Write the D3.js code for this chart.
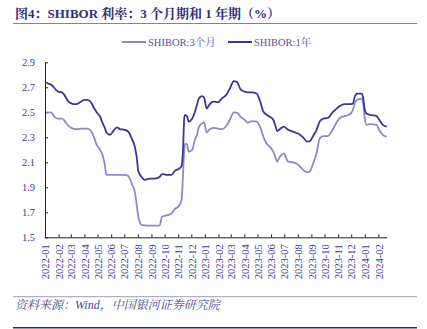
<!DOCTYPE html>
<html>
<head>
<meta charset="utf-8">
<script src="https://cdn.jsdelivr.net/npm/d3@7/dist/d3.min.js"></script>
<style>
  html, body { margin: 0; padding: 0; background: #fff; }
  svg { display: block; }
</style>
</head>
<body>
<svg id="chart" width="427" height="329"></svg>
<script>
// SHIBOR fixing dates (observation points)
const dates = [
  "2022-01-04","2022-01-08","2022-01-15","2022-01-20","2022-01-26","2022-01-31",
  "2022-02-08","2022-02-13","2022-02-19","2022-02-24","2022-03-03","2022-03-10",
  "2022-03-17","2022-03-24","2022-04-02","2022-04-09","2022-04-17","2022-04-22",
  "2022-04-29","2022-05-06","2022-05-13","2022-05-18","2022-05-21","2022-05-29",
  "2022-06-05","2022-06-14","2022-06-21","2022-07-02","2022-07-10","2022-07-18",
  "2022-07-25","2022-07-29","2022-08-02","2022-08-09","2022-08-17","2022-08-28",
  "2022-09-09","2022-09-20","2022-09-25","2022-10-05","2022-10-17","2022-10-24",
  "2022-11-01","2022-11-09","2022-11-12","2022-11-15","2022-11-17","2022-11-21",
  "2022-11-25","2022-12-03","2022-12-09","2022-12-14","2022-12-18","2022-12-25",
  "2022-12-30","2023-01-05","2023-01-11","2023-01-20","2023-01-31","2023-02-08",
  "2023-02-19","2023-02-27","2023-03-08","2023-03-16","2023-03-23","2023-04-02",
  "2023-04-09","2023-04-18","2023-04-29","2023-05-06","2023-05-14","2023-05-22",
  "2023-05-29","2023-06-06","2023-06-12","2023-06-15","2023-06-21","2023-06-30",
  "2023-07-10","2023-07-21","2023-08-02","2023-08-13","2023-08-23","2023-08-29",
  "2023-09-05","2023-09-13","2023-09-20","2023-09-28","2023-10-09","2023-10-17",
  "2023-10-29","2023-11-05","2023-11-16","2023-11-26","2023-12-05","2023-12-09",
  "2023-12-15","2023-12-25","2023-12-28","2024-01-01","2024-01-05","2024-01-13",
  "2024-01-28","2024-02-03","2024-02-11","2024-02-20"
];

// SHIBOR 3-month tenor (%)
const shibor3m = [
  2.50,2.50,2.50,2.475,2.455,2.45,
  2.45,2.44,2.41,2.39,2.375,2.365,
  2.365,2.37,2.37,2.37,2.345,2.31,
  2.24,2.205,2.15,2.07,2.00,2.00,
  2.00,2.00,2.00,2.00,1.99,1.93,
  1.865,1.77,1.665,1.60,1.595,1.593,
  1.593,1.595,1.665,1.675,1.69,1.725,
  1.745,1.80,2.00,2.20,2.25,2.245,
  2.185,2.20,2.28,2.32,2.38,2.41,
  2.42,2.34,2.36,2.375,2.37,2.365,
  2.39,2.44,2.50,2.495,2.465,2.44,
  2.415,2.43,2.425,2.39,2.31,2.25,
  2.225,2.185,2.13,2.105,2.145,2.17,
  2.105,2.10,2.08,2.04,2.02,2.03,
  2.09,2.175,2.29,2.31,2.31,2.345,
  2.42,2.455,2.47,2.48,2.52,2.57,
  2.60,2.61,2.58,2.45,2.40,2.405,
  2.40,2.355,2.32,2.305
];

// SHIBOR 1-year tenor (%)
const shibor1y = [
  2.74,2.73,2.72,2.705,2.68,2.665,
  2.66,2.645,2.61,2.585,2.57,2.565,
  2.57,2.585,2.60,2.60,2.575,2.54,
  2.50,2.47,2.41,2.37,2.34,2.32,
  2.345,2.38,2.366,2.36,2.345,2.29,
  2.225,2.15,2.03,1.985,1.96,1.97,
  1.97,1.985,2.005,2.00,2.00,2.03,
  2.045,2.07,2.20,2.46,2.48,2.47,
  2.425,2.45,2.50,2.56,2.61,2.63,
  2.62,2.53,2.56,2.585,2.58,2.61,
  2.64,2.69,2.75,2.74,2.685,2.665,
  2.66,2.66,2.65,2.60,2.51,2.48,
  2.465,2.44,2.38,2.35,2.365,2.385,
  2.36,2.345,2.33,2.30,2.265,2.27,
  2.31,2.36,2.425,2.45,2.455,2.49,
  2.53,2.55,2.565,2.565,2.57,2.625,
  2.65,2.65,2.62,2.52,2.49,2.48,
  2.47,2.44,2.40,2.385
];

const yTicks = [1.5, 1.7, 1.9, 2.1, 2.3, 2.5, 2.7, 2.9];
const seriesNames = ["SHIBOR:3个月", "SHIBOR:1年"];
const titleText = "图4：SHIBOR 利率：3 个月期和 1 年期（%）";
const sourceText = "资料来源：Wind，中国银河证券研究院";

const colors = { m3: "#8d89c7", y1: "#3b3596", axisText: "#3d3b8e" };
const serif = "'Liberation Serif','Times New Roman','Noto Serif CJK SC','Noto Sans CJK SC',serif";

const svg = d3.select("#chart");
const parse = d3.timeParse("%Y-%m-%d");
const dateObjs = dates.map(parse);

const x = d3.scaleTime()
  .domain([new Date(2022, 0, 1), dateObjs[dateObjs.length - 1]])
  .range([45, 386.7]);
const y = d3.scaleLinear().domain([1.5, 2.9]).range([237.3, 62.3]);

// Title and rule
svg.append("text")
  .attr("x", 15).attr("y", 18)
  .attr("font-family", serif).attr("font-size", 13).attr("font-weight", "bold")
  .attr("fill", "#2f2b7c")
  .text(titleText);
svg.append("line")
  .attr("x1", 13).attr("x2", 417).attr("y1", 23.5).attr("y2", 23.5)
  .attr("stroke", "#7f7cb8").attr("stroke-width", 1);

// Legend
const legend = [
  { name: seriesNames[0], color: colors.m3, x0: 122 },
  { name: seriesNames[1], color: colors.y1, x0: 228 }
];
legend.forEach(d => {
  svg.append("line")
    .attr("x1", d.x0).attr("x2", d.x0 + 24).attr("y1", 42).attr("y2", 42)
    .attr("stroke", d.color).attr("stroke-width", 2);
  svg.append("text")
    .attr("x", d.x0 + 26).attr("y", 45.8)
    .attr("font-family", serif).attr("font-size", 10.5)
    .attr("fill", "#56559a")
    .text(d.name);
});

// Y axis
const yAxis = d3.axisLeft(y).tickValues(yTicks).tickFormat(d3.format(".1f"))
  .tickSizeInner(-3).tickSizeOuter(0).tickPadding(10);
const gy = svg.append("g").attr("transform", "translate(45,0)").call(yAxis);
gy.select(".domain").attr("stroke", "#222");
gy.selectAll(".tick line").attr("stroke", "#222");
gy.selectAll(".tick text")
  .attr("font-family", serif).attr("font-size", 10.5).attr("fill", colors.axisText);

// X axis
const months = d3.timeMonth.range(new Date(2022, 0, 1), new Date(2024, 1, 2));
const xAxis = d3.axisBottom(x).tickValues(months).tickFormat(d3.timeFormat("%Y-%m"))
  .tickSizeInner(-3).tickSizeOuter(0);
const gx = svg.append("g").attr("transform", "translate(0,237.3)").call(xAxis);
gx.select(".domain").attr("stroke", "#222");
gx.selectAll(".tick line").attr("stroke", "#222");
gx.selectAll(".tick text")
  .attr("font-family", serif).attr("font-size", 10.5).attr("fill", colors.axisText)
  .attr("transform", "rotate(-90)")
  .attr("x", -7).attr("y", 0).attr("dy", "0.35em")
  .style("text-anchor", "end");

// Lines
const line = vals => d3.line()
  .x((d, i) => x(dateObjs[i]))
  .y(d => y(d))
  .curve(d3.curveMonotoneX)(vals);

svg.append("path").attr("d", line(shibor3m))
  .attr("fill", "none").attr("stroke", colors.m3).attr("stroke-width", 1.8)
  .attr("stroke-linejoin", "round");
svg.append("path").attr("d", line(shibor1y))
  .attr("fill", "none").attr("stroke", colors.y1).attr("stroke-width", 1.8)
  .attr("stroke-linejoin", "round");

// Source note and rules
svg.append("line")
  .attr("x1", 13).attr("x2", 417).attr("y1", 296.7).attr("y2", 296.7)
  .attr("stroke", "#9c99cf").attr("stroke-width", 1);
svg.append("text")
  .attr("x", 15).attr("y", 309)
  .attr("font-family", serif).attr("font-size", 12).attr("font-style", "italic")
  .attr("fill", "#4b4a8c")
  .text(sourceText);
svg.append("line")
  .attr("x1", 13).attr("x2", 417).attr("y1", 327.7).attr("y2", 327.7)
  .attr("stroke", "#2e2a8a").attr("stroke-width", 1.5);
</script>
</body>
</html>
